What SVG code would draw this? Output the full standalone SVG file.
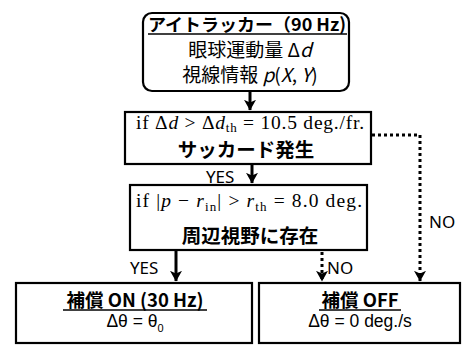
<svg xmlns="http://www.w3.org/2000/svg" width="462" height="347" viewBox="0 0 462 347">
<style>
.box{fill:#fff;stroke:#000;stroke-width:2.2}
.jp{font-family:"Noto Sans CJK JP","Noto Sans",sans-serif;fill:#000}
.b{font-weight:bold}
.m{font-family:"Liberation Serif","DejaVu Serif",serif;fill:#000}
.sans{font-family:"Liberation Sans","Noto Sans",sans-serif;fill:#000}
.lbl{font-family:"Noto Sans","Liberation Sans",sans-serif;font-size:17px;fill:#000}
.solid{stroke:#000;stroke-width:3;fill:none}
.dot{stroke:#000;stroke-width:3;fill:none;stroke-dasharray:3 3}
.ul{stroke:#000;stroke-width:1.5}
</style>
<defs>
<marker id="ah" markerWidth="4" markerHeight="4" refX="3.4" refY="2" orient="auto" markerUnits="strokeWidth">
<path d="M0,0 L3.6,2 L0,4 L0.9,2 z" fill="#000"/>
</marker>
</defs>
<g id="connectors">
<line class="solid" x1="250" y1="92" x2="250" y2="110" marker-end="url(#ah)"/>
<line class="solid" x1="252" y1="165" x2="252" y2="183" marker-end="url(#ah)"/>
<line class="solid" x1="176" y1="251" x2="176" y2="281" marker-end="url(#ah)"/>
<line class="dot" x1="322" y1="252" x2="322" y2="281" marker-end="url(#ah)"/>
<polyline class="dot" points="372,135 420,135 420,281" marker-end="url(#ah)"/>
<text class="lbl" x="206" y="183">YES</text>
<text class="lbl" x="130" y="274">YES</text>
<text class="lbl" x="327" y="274">NO</text>
<text class="lbl" x="429" y="228">NO</text>
</g>
<g id="tracker">
<rect class="box" x="143" y="13" width="206" height="78" rx="9"/>
<text class="jp b" x="247" y="31" font-size="17.5" text-anchor="middle" textLength="198" lengthAdjust="spacingAndGlyphs">アイトラッカー（90 Hz)</text>
<line class="ul" x1="148" y1="34" x2="347" y2="34"/>
<text class="jp" x="250" y="57" font-size="19" text-anchor="middle">眼球運動量 Δ<tspan font-style="italic">d</tspan></text>
<text class="jp" x="250" y="82" font-size="19" text-anchor="middle">視線情報 <tspan font-style="italic">p</tspan>(<tspan font-style="italic">X</tspan>, <tspan font-style="italic">Y</tspan>)</text>
</g>
<g id="saccade">
<rect class="box" x="125" y="112" width="246" height="52"/>
<text class="m" x="250" y="129" font-size="19.5" text-anchor="middle" textLength="228" lengthAdjust="spacing">if Δ<tspan font-style="italic">d</tspan> &gt; Δ<tspan font-style="italic">d</tspan><tspan font-size="13" dy="3">th</tspan><tspan dy="-3"> = 10.5 deg./fr.</tspan></text>
<text class="jp b" x="246" y="157" font-size="19.5" text-anchor="middle">サッカード発生</text>
</g>
<g id="periphery">
<rect class="box" x="130" y="185" width="237" height="65"/>
<text class="m" x="249" y="207" font-size="19.5" text-anchor="middle" textLength="226" lengthAdjust="spacing">if |<tspan font-style="italic">p</tspan> − <tspan font-style="italic">r</tspan><tspan font-size="13" dy="4">in</tspan><tspan dy="-4">| &gt; </tspan><tspan font-style="italic">r</tspan><tspan font-size="13" dy="4">th</tspan><tspan dy="-4"> = 8.0 deg.</tspan></text>
<text class="jp b" x="250" y="243" font-size="19.5" text-anchor="middle">周辺視野に存在</text>
</g>
<g id="comp-on">
<rect class="box" x="16" y="283" width="236" height="60"/>
<text class="jp b" x="135" y="307" font-size="18.5" text-anchor="middle">補償 ON (30 Hz)</text>
<line class="ul" x1="63" y1="310" x2="207" y2="310"/>
<text class="sans" x="135" y="327" font-size="17.5" text-anchor="middle">Δθ = θ<tspan font-size="11" dy="5">0</tspan></text>
</g>
<g id="comp-off">
<rect class="box" x="259" y="283" width="201" height="60"/>
<text class="jp b" x="360" y="307" font-size="18.5" text-anchor="middle">補償 OFF</text>
<line class="ul" x1="319" y1="310" x2="401" y2="310"/>
<text class="sans" x="360" y="327" font-size="17.5" text-anchor="middle">Δθ = 0 deg./s</text>
</g>
</svg>
